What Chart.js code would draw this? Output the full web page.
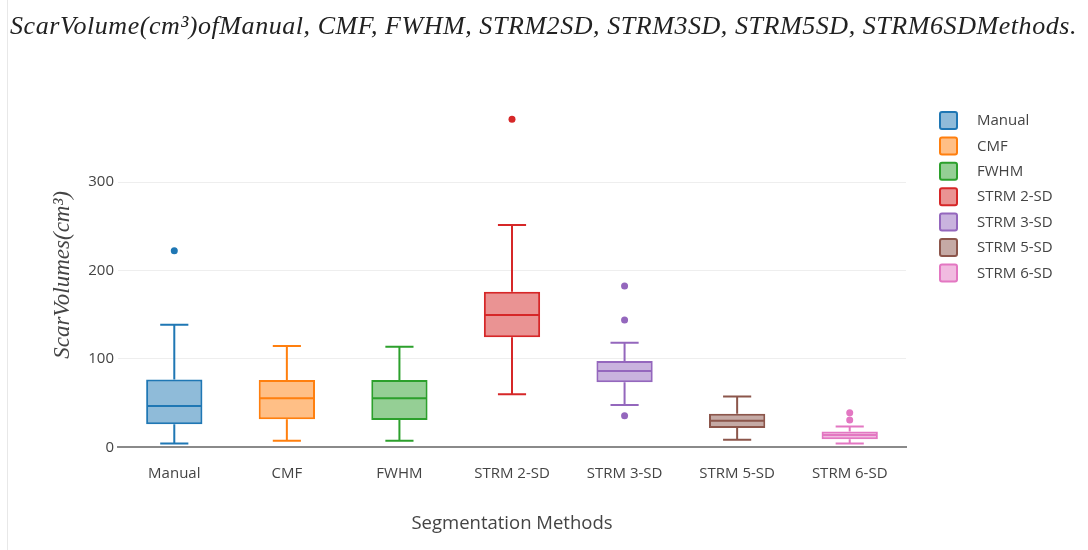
<!DOCTYPE html>
<html>
<head>
<meta charset="utf-8">
<script src="https://cdn.jsdelivr.net/npm/chart.js@4.4.1/dist/chart.umd.min.js"></script>
<style>
  html, body { margin: 0; padding: 0; background: #fff; }
  #wrap { position: relative; width: 1088px; height: 550px; overflow: hidden; }
  #edge { position: absolute; left: 7px; top: 0; width: 1px; height: 550px; background: #e8e8e8; }
  #title { position: absolute; left: 10px; top: 11px; font: italic 26px 'Liberation Serif', serif; color: #222; white-space: nowrap; }
  canvas { display: block; }
</style>
</head>
<body>
<div id="wrap">
  <div id="edge"></div>
  <canvas id="chart" width="1088" height="550"></canvas>
  <div id="title">ScarVolume(cm³)ofManual, CMF, FWHM, STRM2SD, STRM3SD, STRM5SD, STRM6SDMethods.</div>
</div>
<script>
// box plot summary values
const methods = ['Manual', 'CMF', 'FWHM', 'STRM 2-SD', 'STRM 3-SD', 'STRM 5-SD', 'STRM 6-SD'];
const lowerWhisker = [4.2, 7.5, 7.5, 60, 47.9, 8.5, 4.2];
const q1 = [26, 31.7, 31, 124.4, 73.5, 21.8, 9];
const medians = [46.6, 55.4, 55.4, 149.7, 86.3, 30, 14];
const q3 = [76.7, 76.1, 76.1, 176, 97.6, 38, 18];
const upperWhisker = [138.7, 114.6, 113.8, 251.5, 118.3, 57.5, 23.5];
const outliers = [[222.4], [], [], [371], [182.5, 144, 35.8], [], [39, 31]];
const yTicks = [0, 100, 200, 300];

const colors = ['#1f77b4', '#ff7f0e', '#2ca02c', '#d62728', '#9467bd', '#8c564b', '#e377c2'];

function alpha(hex, a) {
  const n = parseInt(hex.slice(1), 16);
  return `rgba(${(n >> 16) & 255}, ${(n >> 8) & 255}, ${n & 255}, ${a})`;
}

// fit the title to the same width as the original
const titleEl = document.getElementById('title');
const chars = titleEl.textContent.length;
const natural = titleEl.getBoundingClientRect().width;
titleEl.style.letterSpacing = ((1067 - natural) / chars) + 'px';

const boxDatasets = methods.map((name, i) => ({
  type: 'bar',
  label: name,
  boxIndex: i,
  data: methods.map((_, j) => (j === i ? [q1[i], q3[i]] : null)),
  backgroundColor: alpha(colors[i], 0.5),
  borderColor: colors[i],
  borderWidth: 2,
  borderSkipped: false,
  grouped: false,
  barPercentage: 0.5,
  categoryPercentage: 1,
  order: 2,
}));

const outlierDatasets = methods.map((name, i) => ({
  type: 'scatter',
  label: name + ' outliers',
  data: outliers[i].map((v) => ({ x: name, y: v })),
  backgroundColor: colors[i],
  borderWidth: 0,
  pointRadius: 3.5,
  order: 1,
}));

const whiskerPlugin = {
  id: 'whiskers',
  afterDatasetsDraw(chart) {
    const ctx = chart.ctx;
    const y = chart.scales.y;
    chart.data.datasets.forEach((ds, di) => {
      if (ds.type !== 'bar') return;
      const i = ds.boxIndex;
      const bar = chart.getDatasetMeta(di).data[i];
      const x = bar.x;
      const half = bar.width / 2;
      const yLo = y.getPixelForValue(lowerWhisker[i]);
      const yHi = y.getPixelForValue(upperWhisker[i]);
      const yQ1 = y.getPixelForValue(q1[i]);
      const yQ3 = y.getPixelForValue(q3[i]);
      const yMed = y.getPixelForValue(medians[i]);
      ctx.save();
      ctx.strokeStyle = ds.borderColor;
      ctx.lineWidth = 2;
      ctx.beginPath();
      ctx.moveTo(x - half + 1, yMed);
      ctx.lineTo(x + half - 1, yMed);
      ctx.moveTo(x, yQ1);
      ctx.lineTo(x, yLo);
      ctx.moveTo(x - half / 2, yLo);
      ctx.lineTo(x + half / 2, yLo);
      ctx.moveTo(x, yQ3);
      ctx.lineTo(x, yHi);
      ctx.moveTo(x - half / 2, yHi);
      ctx.lineTo(x + half / 2, yHi);
      ctx.stroke();
      ctx.restore();
    });
  },
};

const legendPlugin = {
  id: 'sideLegend',
  afterDraw(chart) {
    const ctx = chart.ctx;
    const left = chart.chartArea.right + 34;
    let top = 112;
    ctx.save();
    ctx.font = "15px 'Open Sans'";
    ctx.textBaseline = 'middle';
    chart.data.datasets.forEach((ds) => {
      if (ds.type !== 'bar') return;
      ctx.fillStyle = ds.backgroundColor;
      ctx.strokeStyle = ds.borderColor;
      ctx.lineWidth = 2;
      ctx.beginPath();
      ctx.roundRect(left, top, 17, 17, 2);
      ctx.fill();
      ctx.stroke();
      ctx.fillStyle = '#444';
      ctx.fillText(ds.label, left + 37, top + 9);
      top += 25.4;
    });
    ctx.restore();
  },
};

new Chart(document.getElementById('chart'), {
  type: 'bar',
  data: {
    labels: methods,
    datasets: [...boxDatasets, ...outlierDatasets],
  },
  options: {
    responsive: false,
    animation: false,
    layout: { padding: { left: 0, right: 182, top: 102.5, bottom: 0 } },
    plugins: {
      legend: { display: false },
      tooltip: { enabled: false },
    },
    scales: {
      x: {
        type: 'category',
        offset: true,
        grid: { display: false, drawTicks: false },
        border: { display: true, color: '#8a8a8a', width: 2 },
        ticks: { color: '#444', font: { family: 'Open Sans', size: 15 }, padding: 17 },
        title: {
          display: true,
          text: 'Segmentation Methods',
          color: '#444',
          font: { family: 'Open Sans', size: 18.5 },
          padding: { top: 0, bottom: 15 },
        },
        afterFit(scale) { scale.height = 102.7; },
      },
      y: {
        min: 0,
        max: 390,
        grid: {
          color: (c) => (c.tick && c.tick.value === 0 ? 'rgba(0,0,0,0)' : '#eeeeee'),
          lineWidth: 1,
          drawTicks: false,
        },
        border: { display: false },
        afterBuildTicks(scale) { scale.ticks = yTicks.map((v) => ({ value: v })); },
        ticks: { color: '#444', font: { family: 'Open Sans', size: 15 }, padding: 4 },
        title: {
          display: true,
          text: 'ScarVolumes(cm³)',
          color: '#444',
          font: { family: 'Liberation Serif', style: 'italic', size: 23 },
          padding: { top: 49, bottom: 0 },
        },
        afterFit(scale) { scale.width = 118; },
      },
    },
  },
  plugins: [whiskerPlugin, legendPlugin],
});
</script>
</body>
</html>
